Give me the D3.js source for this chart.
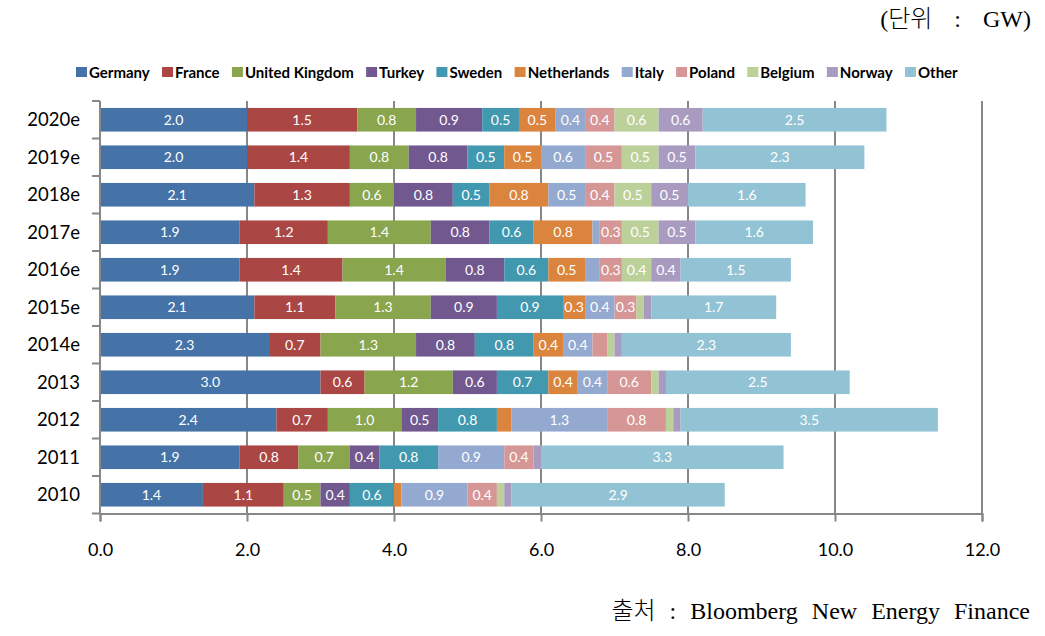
<!DOCTYPE html>
<html>
<head>
<meta charset="utf-8">
<script src="https://cdn.jsdelivr.net/npm/d3@7"></script>
<style>
  html, body { margin: 0; padding: 0; background: #fff; }
  svg { display: block; }
</style>
</head>
<body>
<svg id="chart" width="1045" height="636"></svg>
<script>
// ---- data ----
const years = ["2020e","2019e","2018e","2017e","2016e","2015e","2014e","2013","2012","2011","2010"];
const countries = ["Germany","France","United Kingdom","Turkey","Sweden","Netherlands","Italy","Poland","Belgium","Norway","Other"];
const germany     = [2.0,2.0,2.1,1.9,1.9,2.1,2.3,3.0,2.4,1.9,1.4];
const france      = [1.5,1.4,1.3,1.2,1.4,1.1,0.7,0.6,0.7,0.8,1.1];
const unitedKingdom = [0.8,0.8,0.6,1.4,1.4,1.3,1.3,1.2,1.0,0.7,0.5];
const turkey      = [0.9,0.8,0.8,0.8,0.8,0.9,0.8,0.6,0.5,0.4,0.4];
const sweden      = [0.5,0.5,0.5,0.6,0.6,0.9,0.8,0.7,0.8,0.8,0.6];
const netherlands = [0.5,0.5,0.8,0.8,0.5,0.3,0.4,0.4,0.2,0.0,0.1];
const italy       = [0.4,0.6,0.5,0.1,0.2,0.4,0.4,0.4,1.3,0.9,0.9];
const poland      = [0.4,0.5,0.4,0.3,0.3,0.3,0.2,0.6,0.8,0.4,0.4];
const belgium     = [0.6,0.5,0.5,0.5,0.4,0.1,0.1,0.1,0.1,0.0,0.1];
const norway      = [0.6,0.5,0.5,0.5,0.4,0.1,0.1,0.1,0.1,0.1,0.1];
const other       = [2.5,2.3,1.6,1.6,1.5,1.7,2.3,2.5,3.5,3.3,2.9];
const xTicks = [0, 2, 4, 6, 8, 10, 12];
const unitLabel = "(단위 : GW)";
const sourceLabel = "출처 : Bloomberg New Energy Finance";

const seriesValues = [germany, france, unitedKingdom, turkey, sweden, netherlands, italy, poland, belgium, norway, other];
const colors = ["#4572A7","#AA4643","#89A54E","#71588F","#4198AF","#DB843D","#93A9CF","#D69695","#BCD09A","#A99BC0","#92C3D4"];

// table for stack
const table = years.map((yr, i) => {
  const row = { year: yr };
  countries.forEach((c, j) => row[c] = seriesValues[j][i]);
  return row;
});
const stacked = d3.stack().keys(countries)(table);

const svg = d3.select("#chart");
const pLeft = 100, pRight = 982, pTop = 101, pBottom = 513.5;

const x = d3.scaleLinear().domain([0, 12]).range([pLeft, pRight]);
const y = d3.scaleBand().domain(years).range([pTop, pBottom]).paddingInner(0.37).paddingOuter(0.185);
const color = d3.scaleOrdinal().domain(countries).range(colors);

const gridColor = "#878787";
const font = "Lato, 'Open Sans', sans-serif";

// gridlines
svg.append("g").selectAll("line").data(xTicks.filter(d => d > 0)).join("line")
  .attr("x1", d => x(d)).attr("x2", d => x(d))
  .attr("y1", pTop).attr("y2", pBottom)
  .attr("stroke", gridColor).attr("stroke-width", 2);

// bars
const gBars = svg.append("g");
stacked.forEach(layer => {
  gBars.append("g").attr("fill", color(layer.key))
    .selectAll("rect").data(layer.filter(d => d[1] - d[0] > 0)).join("rect")
    .attr("x", d => x(d[0]))
    .attr("width", d => x(d[1]) - x(d[0]))
    .attr("y", d => y(d.data.year))
    .attr("height", y.bandwidth());
});

// bar labels
const gLabels = svg.append("g")
  .attr("font-family", font).attr("font-size", 14).attr("fill", "#fff").attr("text-anchor", "middle");
stacked.forEach(layer => {
  gLabels.append("g").selectAll("text").data(layer.filter(d => d[1] - d[0] >= 0.25)).join("text")
    .attr("x", d => (x(d[0]) + x(d[1])) / 2)
    .attr("y", d => y(d.data.year) + y.bandwidth() / 2 + 5)
    .text(d => d3.format(".1f")(d.data[layer.key]));
});

// x axis
const xAxis = d3.axisBottom(x).tickValues(xTicks).tickFormat(d3.format(".1f")).tickSize(8).tickPadding(22);
const gx = svg.append("g").attr("transform", `translate(0,${pBottom})`).call(xAxis);
gx.select(".domain").attr("stroke", gridColor).attr("stroke-width", 2);
gx.selectAll(".tick line").attr("stroke", gridColor).attr("stroke-width", 2);
gx.selectAll(".tick text").attr("font-family", font).attr("font-size", 18).attr("fill", "#000");

// y axis line and ticks at band boundaries
svg.append("line").attr("x1", pLeft).attr("x2", pLeft).attr("y1", pTop).attr("y2", pBottom)
  .attr("stroke", gridColor).attr("stroke-width", 2);
const boundaries = years.map(d => y(d) - y.step() * y.paddingInner() / 2);
boundaries.push(pBottom);
svg.append("g").selectAll("line").data(boundaries).join("line")
  .attr("x1", pLeft - 8).attr("x2", pLeft).attr("y1", d => d).attr("y2", d => d)
  .attr("stroke", gridColor).attr("stroke-width", 2);
svg.append("g").selectAll("text").data(years).join("text")
  .attr("x", 80).attr("y", d => y(d) + y.bandwidth() / 2 + 6.5)
  .attr("text-anchor", "end").attr("font-family", font).attr("font-size", 18.5).attr("fill", "#000")
  .text(d => d);

// legend
const legend = svg.append("g").attr("font-family", font).attr("font-size", 15).attr("font-weight", "bold");
let lx = 76;
countries.forEach((c, i) => {
  legend.append("rect").attr("x", lx).attr("y", 67).attr("width", 11).attr("height", 10).attr("fill", colors[i]);
  const t = legend.append("text").attr("x", lx + 13).attr("y", 77.5).attr("fill", "#000").text(c);
  const w = t.node().getComputedTextLength();
  lx += 13 + w + 12.3;
});

// header & footer
svg.append("text").attr("x", 1031).attr("y", 27).attr("text-anchor", "end")
  .attr("font-family", "'Liberation Serif', 'Noto Sans CJK KR', serif").attr("font-size", 24)
  .attr("font-weight", 300)
  .attr("word-spacing", 16)
  .attr("fill", "#000").text(unitLabel);
svg.append("text").attr("x", 1030).attr("y", 619).attr("text-anchor", "end")
  .attr("font-family", "'Liberation Serif', 'Noto Sans CJK KR', serif").attr("font-size", 24)
  .attr("font-weight", 300)
  .attr("word-spacing", 8)
  .attr("fill", "#000").text(sourceLabel);
</script>
</body>
</html>
